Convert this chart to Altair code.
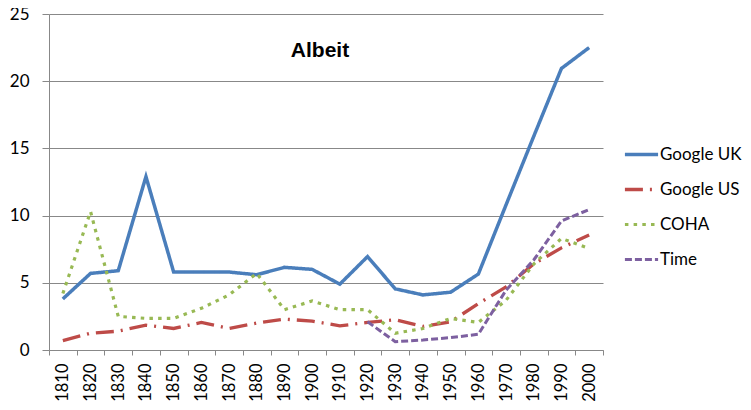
import altair as alt
import pandas as pd

years = [str(y) for y in range(1810, 2001, 10)]
google_uk = [3.8, 5.7, 5.9, 12.9, 5.8, 5.8, 5.8, 5.6, 6.15, 6.0, 4.9, 6.95, 4.55, 4.1, 4.3, 5.65, 10.8, 15.9, 20.95, 22.5]
google_us = [0.7, 1.25, 1.4, 1.85, 1.6, 2.05, 1.6, 2.0, 2.3, 2.15, 1.8, 2.05, 2.25, 1.75, 2.1, 3.45, 4.7, 6.4, 7.6, 8.55]
coha = [4.2, 10.3, 2.5, 2.35, 2.35, 3.1, 4.1, 5.7, 3.0, 3.65, 3.0, 3.0, 1.25, 1.6, 2.35, 2.05, 3.7, 6.4, 8.3, 7.55]
time_ = [None] * 11 + [2.1, 0.62, 0.74, 0.92, 1.17, 4.45, 6.7, 9.6, 10.45]

series_names = ["Google UK", "Google US", "COHA", "Time"]
series_values = [google_uk, google_us, coha, time_]
colors = ["#4A7EBB", "#BE4B48", "#98B954", "#7D60A0"]
dashes = [[1, 0], [18, 7, 2, 7], [3.5, 5.2], [7, 3]]
widths = [3.5, 3, 3.5, 3]

rows = []
for name, vals in zip(series_names, series_values):
    for yr, v in zip(years, vals):
        if v is not None:
            rows.append({"year": yr, "value": v, "series": name})
df = pd.DataFrame(rows)

FONT = "Lato"

chart = alt.Chart(df).mark_line(strokeJoin="miter").encode(
    x=alt.X("year:O", sort=years,
            scale=alt.Scale(type="band", paddingInner=0, paddingOuter=0),
            axis=alt.Axis(title=None, labelAngle=-90, labelFontSize=16.5, labelFont=FONT,
                          labelColor="black", labelAlign="right", labelBaseline="middle",
                          tickBand="extent", tickSize=5, tickColor="#888888",
                          domainColor="#888888", labelPadding=8, grid=False)),
    y=alt.Y("value:Q", scale=alt.Scale(domain=[0, 25], nice=False),
            axis=alt.Axis(title=None, values=[0, 5, 10, 15, 20, 25], labelFontSize=17,
                          labelFont=FONT, labelColor="black", tickSize=7, tickColor="#888888",
                          domainColor="#888888", labelPadding=13, grid=True,
                          gridColor="#888888", gridWidth=1)),
    color=alt.Color("series:N", scale=alt.Scale(domain=series_names, range=colors),
                    legend=alt.Legend(title=None, orient="none", legendX=574, legendY=122,
                                      symbolType="stroke", symbolSize=1100,
                                      symbolStrokeWidth=3, labelFontSize=17, labelFont=FONT,
                                      labelColor="black", rowPadding=8, labelOffset=0)),
    strokeDash=alt.StrokeDash("series:N", scale=alt.Scale(domain=series_names, range=dashes),
                              legend=None),
    strokeWidth=alt.StrokeWidth("series:N", scale=alt.Scale(domain=series_names, range=widths),
                                legend=None),
).properties(
    width=554, height=336,
    title=alt.TitleParams(text="Albeit", font="Liberation Sans", fontSize=21, fontWeight="bold",
                          color="black", anchor="middle", dx=-6, dy=77, baseline="alphabetic"),
    autosize=alt.AutoSizeParams(type="none"),
    padding={"left": 41, "top": 6, "right": 140, "bottom": 52},
).configure_view(stroke=None).configure_axis(domainWidth=1, tickWidth=1)

chart.save("out.html", embed_options={"renderer": "svg", "actions": False})
